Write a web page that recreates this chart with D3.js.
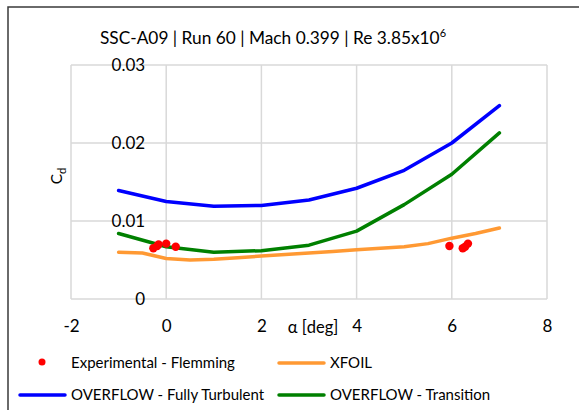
<!DOCTYPE html>
<html>
<head>
<meta charset="utf-8">
<script src="https://cdn.jsdelivr.net/npm/d3@7"></script>
<style>
  html, body { margin: 0; padding: 0; background: #fff; }
  svg { display: block; font-family: Lato, "Open Sans", sans-serif; }
</style>
</head>
<body>
<svg id="chart" width="579" height="410"></svg>
<script>
// Angle of attack (deg) for the OVERFLOW runs
const alphaCfd = [-1, 0, 1, 2, 3, 4, 5, 6, 7];
// OVERFLOW drag coefficients
const cdFullyTurbulent = [0.0139, 0.0125, 0.0119, 0.0120, 0.0127, 0.0142, 0.0165, 0.0200, 0.0248];
const cdTransition     = [0.0084, 0.0067, 0.0060, 0.0062, 0.0069, 0.0087, 0.0121, 0.0160, 0.0213];
// XFOIL polar
const alphaXfoil = [-1, -0.5, 0, 0.5, 1, 1.5, 2, 2.5, 3, 3.5, 4, 4.5, 5, 5.5, 6, 6.5, 7];
const cdXfoil    = [0.0060, 0.0059, 0.0052, 0.0050, 0.0051, 0.0053, 0.0055, 0.0057, 0.0059, 0.0061, 0.0063, 0.0065, 0.0067, 0.0071, 0.0078, 0.0084, 0.0091];
// Wind tunnel measurements (Flemming)
const alphaExp = [-0.27, -0.19, -0.16, 0.0, 0.20, 5.95, 6.23, 6.28, 6.34];
const cdExp    = [0.0065, 0.0068, 0.0070, 0.0071, 0.0067, 0.0068, 0.0065, 0.0067, 0.0071];
// Axis ticks
const xTicks = [-2, 0, 2, 4, 6, 8];
const yTicks = [0, 0.01, 0.02, 0.03];

const svg = d3.select("#chart");

// Chart frame
svg.append("rect")
  .attr("x", 8).attr("y", 7).attr("width", 640).attr("height", 480)
  .attr("fill", "#fff").attr("stroke", "#3a3a3a").attr("stroke-width", 1.5);

const x = d3.scaleLinear().domain([-2, 8]).range([71, 547]);
const y = d3.scaleLinear().domain([0, 0.03]).range([299, 65]);

// Gridlines
const grid = svg.append("g").attr("stroke", "#d9d9d9").attr("stroke-width", 1.5);
grid.selectAll("line.v").data(xTicks).join("line").attr("class", "v")
  .attr("x1", d => x(d)).attr("x2", d => x(d))
  .attr("y1", y(0.03)).attr("y2", y(0));
grid.selectAll("line.h").data(yTicks).join("line").attr("class", "h")
  .attr("x1", x(-2)).attr("x2", x(8))
  .attr("y1", d => y(d)).attr("y2", d => y(d));

// Y axis crosses at alpha = 0; labels sit next to it
const yAxis = svg.append("g")
  .attr("transform", `translate(${x(0)},0)`)
  .call(d3.axisLeft(y).tickValues(yTicks).tickSize(0).tickPadding(21)
    .tickFormat(d => d === 0 ? "0" : d3.format(".2f")(d)));
yAxis.select(".domain").remove();
yAxis.selectAll("text").attr("font-family", "Lato, sans-serif").attr("font-size", 17).attr("fill", "#000");

// X tick labels use a plain hyphen for negatives
const xAxis = svg.append("g")
  .attr("transform", `translate(0,${y(0)})`)
  .call(d3.axisBottom(x).tickValues(xTicks).tickSize(0).tickPadding(21)
    .tickFormat(d => String(d)));
xAxis.select(".domain").remove();
xAxis.selectAll("text").attr("font-family", "Lato, sans-serif").attr("font-size", 17).attr("fill", "#000");

// Title
const title = svg.append("text")
  .attr("x", 273).attr("y", 44).attr("text-anchor", "middle")
  .attr("font-size", 17.3).attr("fill", "#000");
title.append("tspan").text("SSC-A09 | Run 60 | Mach 0.399 | Re 3.85x10");
title.append("tspan").attr("font-size", 11).attr("dy", -7).text("6");

// Axis titles
svg.append("text").attr("x", 313).attr("y", 333).attr("text-anchor", "middle")
  .attr("font-size", 16.5).attr("fill", "#000").text("α [deg]");
const yt = svg.append("text")
  .attr("transform", "translate(62,176) rotate(-90)")
  .attr("text-anchor", "middle").attr("font-size", 15.5).attr("fill", "#000");
yt.append("tspan").text("C");
yt.append("tspan").attr("font-size", 11).attr("dy", 4).text("d");

// Series
const line = d3.line().x(d => x(d[0])).y(d => y(d[1]));
const drawLine = (xs, ys, color) => svg.append("path")
  .datum(xs.map((a, i) => [a, ys[i]]))
  .attr("d", line).attr("fill", "none").attr("stroke", color)
  .attr("stroke-width", 3.5).attr("stroke-linecap", "round").attr("stroke-linejoin", "round");

drawLine(alphaXfoil, cdXfoil, "#ff9933");
drawLine(alphaCfd, cdFullyTurbulent, "#0000ff");
drawLine(alphaCfd, cdTransition, "#008000");

svg.append("g").selectAll("circle")
  .data(alphaExp.map((a, i) => [a, cdExp[i]]))
  .join("circle")
  .attr("cx", d => x(d[0])).attr("cy", d => y(d[1])).attr("r", 4.2)
  .attr("fill", "#ff0000");

// Legend
const legend = svg.append("g").attr("font-size", 15).attr("fill", "#000");
const items = [
  { label: "Experimental - Flemming", color: "#ff0000", type: "dot", lx: 19, ly: 363 },
  { label: "XFOIL", color: "#ff9933", type: "line", lx: 278, ly: 363 },
  { label: "OVERFLOW - Fully Turbulent", color: "#0000ff", type: "line", lx: 19, ly: 395 },
  { label: "OVERFLOW - Transition", color: "#008000", type: "line", lx: 278, ly: 395 }
];
items.forEach(it => {
  if (it.type === "dot") {
    legend.append("circle").attr("cx", it.lx + 23).attr("cy", it.ly - 1).attr("r", 3.5).attr("fill", it.color);
  } else {
    legend.append("line").attr("x1", it.lx + 1).attr("x2", it.lx + 46)
      .attr("y1", it.ly).attr("y2", it.ly)
      .attr("stroke", it.color).attr("stroke-width", 3.5).attr("stroke-linecap", "round");
  }
  legend.append("text").attr("x", it.lx + 52).attr("y", it.ly + 5).text(it.label);
});
</script>
</body>
</html>
